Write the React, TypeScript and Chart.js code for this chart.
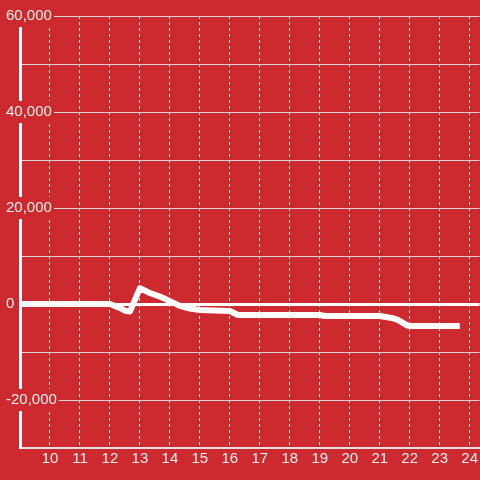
import React, { useEffect, useRef } from "react";
import { Chart, registerables } from "chart.js";

Chart.register(...registerables);

// Hours of day (x) and values (y)
const hours = [9.0, 12.0, 12.33, 12.5, 12.67, 13.0, 13.33, 13.67, 14.0, 14.33, 14.67, 15.0, 16.0, 16.27, 19.0, 19.17, 21.0, 21.4, 21.6, 21.93, 22.07, 23.67];
const values = [0, 0, -800, -1400, -1550, 3300, 2300, 1550, 600, -400, -950, -1250, -1450, -2300, -2300, -2500, -2500, -2900, -3300, -4500, -4600, -4600];

const xTickLabels = [10, 11, 12, 13, 14, 15, 16, 17, 18, 19, 20, 21, 22, 23, 24];

const xMin = 9;
const xMax = 24.333;
const yMin = -30000;
const yMax = 60000;
const yStep = 10000;
const yLabelStep = 20000;

const BG = "rgb(204,42,46)";
const FONT = "'Liberation Sans', Arial, sans-serif";

export default function App() {
  const ref = useRef<HTMLCanvasElement | null>(null);

  useEffect(() => {
    const canvas = ref.current;
    if (!canvas) return;
    const bgPlugin = {
      id: "bg",
      beforeDraw(chart: any) {
        const { ctx, width, height } = chart;
        ctx.save();
        ctx.fillStyle = BG;
        ctx.fillRect(0, 0, width, height);
        ctx.restore();
      },
    };
    const isLabel = (v: number) => v % yLabelStep === 0 && v !== yMin;
    const chart = new Chart(canvas, {
      type: "line",
      data: {
        datasets: [
          {
            data: hours.map((h, i) => ({ x: h, y: values[i] })),
            borderColor: "#ffffff",
            borderWidth: 6,
            pointRadius: 0,
            fill: false,
            tension: 0,
            borderJoinStyle: "round",
            borderCapStyle: "butt",
          },
        ],
      },
      options: {
        animation: false,
        responsive: false,
        maintainAspectRatio: false,
        layout: { padding: { top: 16, left: 0, right: 0, bottom: 0 } },
        plugins: { legend: { display: false }, tooltip: { enabled: false } },
        scales: {
          x: {
            type: "linear",
            min: xMin,
            max: xMax,
            afterBuildTicks: (scale: any) => {
              scale.ticks = xTickLabels.map((v) => ({ value: v }));
            },
            afterFit: (scale: any) => {
              scale.height = 32;
            },
            ticks: {
              stepSize: 1,
              color: "#f0f0f0",
              font: { family: FONT, size: 15 },
              padding: 2,
              maxRotation: 0,
              autoSkip: false,
              callback: (v: any) => String(v),
            },
            grid: {
              color: "#e6e6e6",
              lineWidth: 1,
              drawTicks: false,
            },
            border: { color: "#e0e0e0", width: 2, dash: [3, 3] } as any,
          },
          y: {
            type: "linear",
            min: yMin,
            max: yMax,
            afterFit: (scale: any) => {
              scale.width = 20;
            },
            ticks: {
              stepSize: yStep,
              color: "#f0f0f0",
              font: { family: FONT, size: 15 },
              mirror: true,
              padding: -14,
              z: 1,
              showLabelBackdrop: (ctx: any) => !!ctx.tick && isLabel(ctx.tick.value),
              backdropColor: BG,
              backdropPadding: 2,
              callback: (v: any) =>
                isLabel(Number(v)) ? Number(v).toLocaleString("en-US") : "",
            } as any,
            grid: {
              color: (ctx: any) => (ctx.tick && ctx.tick.value === 0 ? "#ffffff" : "#d4d4d4"),
              lineWidth: (ctx: any) => (ctx.tick && ctx.tick.value === 0 ? 3 : 1),
              drawTicks: false,
            },
            border: { color: "#ffffff", width: 3 },
          },
        },
      } as any,
      plugins: [bgPlugin],
    });
    return () => chart.destroy();
  }, []);

  return (
    <div style={{ position: "absolute", left: 0, top: 0, width: 480, height: 480 }}>
      <canvas ref={ref} width={480} height={480} style={{ display: "block" }} />
    </div>
  );
}
